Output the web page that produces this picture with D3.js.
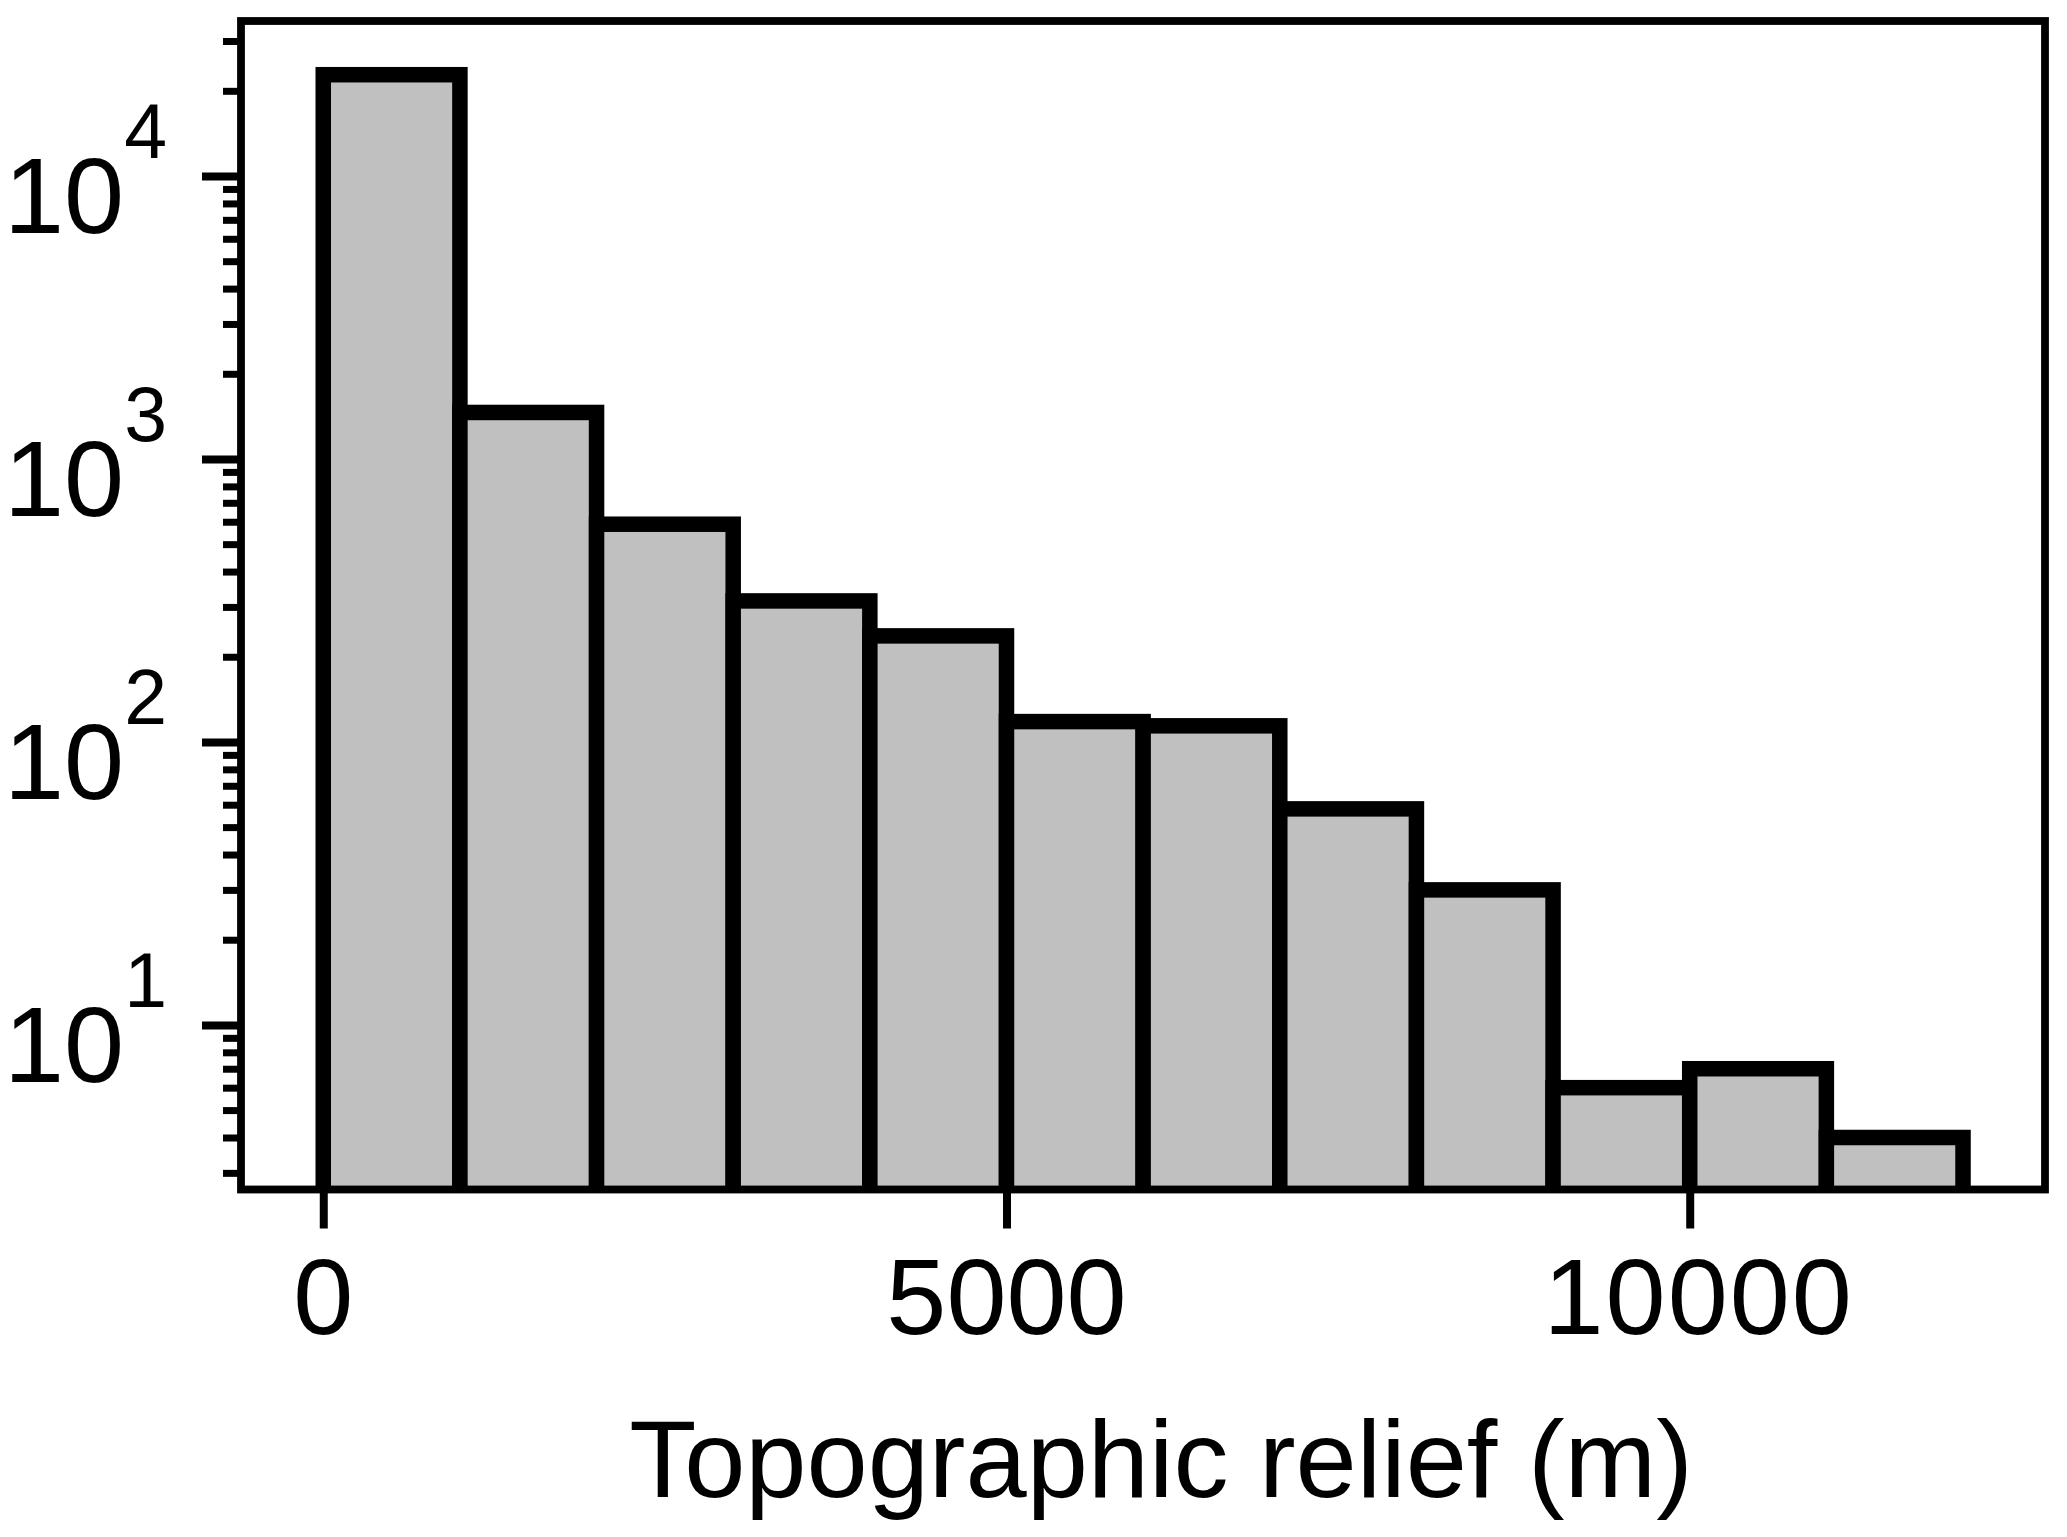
<!DOCTYPE html>
<html>
<head>
<meta charset="utf-8">
<script src="https://cdn.jsdelivr.net/npm/d3@7"></script>
<style>
  html, body { margin: 0; padding: 0; background: #fff; }
  svg { display: block; }
  text { font-family: "Liberation Sans", Arial, Helvetica, sans-serif; fill: #000; }
</style>
</head>
<body>
<svg id="chart" width="2067" height="1537"></svg>
<script>
// ---- data ----
const binEdges = [0, 1000, 2000, 3000, 4000, 5000, 6000, 7000, 8000, 9000, 10000, 11000, 12000];
const counts   = [22800, 1460, 588, 315, 237, 118, 114, 58, 30, 6, 7, 4];
const xTickValues = [0, 5000, 10000];
const xTickLabels = ["0", "5000", "10000"];
const yMajorTicks = [10, 100, 1000, 10000];
const yExponents  = ["1", "2", "3", "4"];
const xTitle = "Topographic relief (m)";

(function () {
// ---- layout ----
const svg = d3.select("#chart");
const pL = 241, pR = 2045, pT = 21, pB = 1189.5;
const x = d3.scaleLinear().domain([-602, 12600]).range([pL, pR]);
const y = d3.scaleLog().domain([2.62, 35300]).range([pB, pT]);

const fontSize = 108;

// clip for bars
svg.append("defs").append("clipPath").attr("id", "plotclip")
  .append("rect").attr("x", pL).attr("y", pT - 20).attr("width", pR - pL).attr("height", pB - pT + 20);

const bars = counts.map((c, i) => ({ x0: binEdges[i], x1: binEdges[i + 1], v: c }));

svg.append("g").attr("clip-path", "url(#plotclip)")
  .selectAll("rect").data(bars).enter().append("rect")
  .attr("x", d => x(d.x0))
  .attr("y", d => y(d.v))
  .attr("width", d => x(d.x1) - x(d.x0))
  .attr("height", d => pB + 10 - y(d.v))
  .attr("fill", "#c0c0c0")
  .attr("stroke", "#000")
  .attr("stroke-width", 15.5)
  .attr("stroke-linejoin", "miter");

// frame
svg.append("rect")
  .attr("x", pL).attr("y", pT)
  .attr("width", pR - pL).attr("height", pB - pT)
  .attr("fill", "none").attr("stroke", "#000").attr("stroke-width", 7.8);

// y ticks (major + minor), outward
const yMinor = [];
[1, 10, 100, 1000, 10000].forEach(dec => {
  for (let k = 2; k <= 9; k++) {
    const v = dec * k;
    if (v >= y.domain()[0] && v <= y.domain()[1]) yMinor.push(v);
  }
});
const yAxisMinor = d3.axisLeft(y).tickValues(yMinor).tickSize(18).tickFormat("");
const gMinor = svg.append("g").attr("transform", `translate(${pL},0)`).call(yAxisMinor);
gMinor.select(".domain").remove();
gMinor.selectAll("line").attr("stroke", "#000").attr("stroke-width", 7);

const yAxisMajor = d3.axisLeft(y).tickValues(yMajorTicks).tickSize(39).tickFormat("");
const gMajor = svg.append("g").attr("transform", `translate(${pL},0)`).call(yAxisMajor);
gMajor.select(".domain").remove();
gMajor.selectAll("line").attr("stroke", "#000").attr("stroke-width", 8);

// y labels 10^n
const yl = svg.append("g");
yMajorTicks.forEach((v, i) => {
  const t = yl.append("text")
    .attr("x", 167)
    .attr("y", y(v) + 57)
    .attr("text-anchor", "end")
    .style("font-size", fontSize + "px");
  t.append("tspan").text("10");
  t.append("tspan").attr("dy", -75).style("font-size", "77px").text(yExponents[i]);
});

// x ticks
const xAxis = d3.axisBottom(x).tickValues(xTickValues).tickSize(39).tickFormat("");
const gx = svg.append("g").attr("transform", `translate(0,${pB})`).call(xAxis);
gx.select(".domain").remove();
gx.selectAll("line").attr("stroke", "#000").attr("stroke-width", 8);

svg.append("g").selectAll("text").data(xTickValues).enter().append("text")
  .attr("x", d => x(d) + (d >= 10000 ? 9 : 0))
  .attr("y", 1334)
  .attr("text-anchor", "middle")
  .style("font-size", fontSize + "px")
  .style("letter-spacing", d => d >= 10000 ? "2px" : "0px")
  .text((d, i) => xTickLabels[i]);

// x title
svg.append("text")
  .attr("x", 1161)
  .attr("y", 1497)
  .attr("text-anchor", "middle")
  .style("font-size", "110px")
  .text(xTitle);
})();
</script>
</body>
</html>
